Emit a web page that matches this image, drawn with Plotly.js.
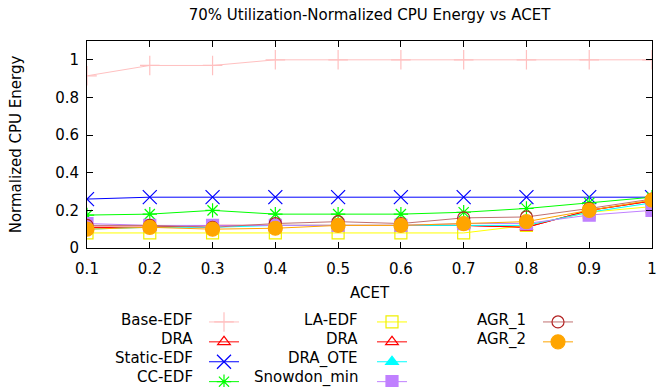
<!DOCTYPE html>
<html>
<head>
<meta charset="utf-8">
<script src="https://cdn.plot.ly/plotly-3.0.1.min.js"></script>
<style>html,body{margin:0;padding:0;background:#fff}#chart{width:665px;height:387px}</style>
</head>
<body>
<div id="chart"></div>
<script>
var acet = [0.1, 0.2, 0.3, 0.4, 0.5, 0.6, 0.7, 0.8, 0.9, 1.0];
var acetLabels = ['0.1','0.2','0.3','0.4','0.5','0.6','0.7','0.8','0.9','1'];
var yTickVals = [0, 0.2, 0.4, 0.6, 0.8, 1];
var yTickLabels = ['0','0.2','0.4','0.6','0.8','1'];
var baseEDF     = [0.915, 0.97, 0.97, 1.0, 1.0, 1.0, 1.0, 1.0, 1.0, 1.0];
var dra         = [0.11, 0.11, 0.12, 0.12, 0.12, 0.12, 0.12, 0.11, 0.20, 0.25];
var staticEDF   = [0.26, 0.27, 0.27, 0.27, 0.27, 0.27, 0.27, 0.27, 0.27, 0.27];
var ccEDF       = [0.175, 0.18, 0.20, 0.18, 0.18, 0.18, 0.19, 0.21, 0.24, 0.27];
var laEDF       = [0.08, 0.08, 0.08, 0.08, 0.08, 0.08, 0.08, 0.12, 0.19, 0.22];
var dra2        = [0.11, 0.11, 0.12, 0.12, 0.12, 0.12, 0.12, 0.11, 0.20, 0.25];
var draOTE      = [0.10, 0.11, 0.11, 0.12, 0.12, 0.12, 0.12, 0.12, 0.19, 0.24];
var snowdonMin  = [0.13, 0.12, 0.12, 0.12, 0.12, 0.12, 0.13, 0.13, 0.175, 0.20];
var agr1        = [0.12, 0.12, 0.11, 0.13, 0.14, 0.13, 0.16, 0.165, 0.21, 0.26];
var agr2        = [0.10, 0.11, 0.10, 0.105, 0.12, 0.12, 0.13, 0.14, 0.20, 0.255];

var seriesNames = ['Base-EDF', 'DRA', 'Static-EDF', 'CC-EDF', 'LA-EDF', 'DRA', 'DRA_OTE', 'Snowdon_min', 'AGR_1', 'AGR_2'];
var seriesData = [baseEDF, dra, staticEDF, ccEDF, laEDF, dra2, draOTE, snowdonMin, agr1, agr2];
var lineColors = ['#ffc0c0', '#ff0000', '#0000ff', '#00ff00', '#ffff00', '#ff0000', '#00ffff', '#c080ff', '#c07070', '#ffa500'];
var markerColors = ['#ffc0c0', '#ff0000', '#0000ff', '#00ff00', '#f0f000', '#ff0000', '#00ffff', '#c080ff', '#b22222', '#ffa500'];
var symbols = ['cross-thin-open', 'triangle-up-open', 'x-thin-open', 'asterisk-open', 'square-open', 'triangle-up-open', 'triangle-up', 'square', 'circle-open', 'circle'];
var sizes = [14, 11, 14, 12, 12, 11, 11, 12, 12, 14];
var legendCol = ['legend', 'legend', 'legend', 'legend', 'legend2', 'legend2', 'legend2', 'legend2', 'legend3', 'legend3'];
var rowOf = [0, 1, 2, 3, 0, 1, 2, 3, 0, 1];

var FONT = 'DejaVu Sans, sans-serif';
var FS = 15;
var L = 87, R = 652, T = 41, B = 248;
function px2x(p) { return (p - L) / (R - L); }
function py2y(p) { return (B - p) / (B - T); }

var traces = [];
for (var i = 0; i < seriesNames.length; i++) {
  traces.push({
    x: acet, y: seriesData[i], type: 'scatter', mode: 'lines+markers',
    name: ' ', legend: legendCol[i], cliponaxis: true,
    line: {color: lineColors[i], width: 1},
    marker: {symbol: symbols[i], size: sizes[i], color: markerColors[i], line: {color: markerColors[i], width: 1.2}}
  });
}

var symCenters = [224, 392, 558];
var textRight = [195, 360, 528];
var row0 = 320, rowStep = 19;
var legTop = 307;
function legendOpts(c) {
  return {orientation: 'v', x: px2x(symCenters[c] - 20), xanchor: 'left', y: py2y(legTop), yanchor: 'top',
    font: {family: FONT, size: 13}, bgcolor: 'rgba(0,0,0,0)', borderwidth: 0, traceorder: 'normal', tracegroupgap: 0};
}
var annotations = [];
for (var j = 0; j < seriesNames.length; j++) {
  var c = legendCol[j] === 'legend' ? 0 : (legendCol[j] === 'legend2' ? 1 : 2);
  annotations.push({text: seriesNames[j], xref: 'paper', yref: 'paper', x: px2x(textRight[c]), y: py2y(row0 + rowStep * rowOf[j]),
    xanchor: 'right', yanchor: 'middle', showarrow: false, font: {family: FONT, size: FS, color: '#000'}});
}

var layout = {
  width: 665, height: 387,
  margin: {l: L, r: 665 - R, t: T, b: 387 - B, autoexpand: false},
  paper_bgcolor: '#fff', plot_bgcolor: '#fff',
  font: {family: FONT, size: FS, color: '#000'},
  title: {text: '70% Utilization-Normalized CPU Energy vs ACET', x: 0.5, xref: 'paper', y: 1 - 15 / 387, yanchor: 'middle',
    font: {family: FONT, size: FS, color: '#000'}},
  xaxis: {range: [0.1, 1.0], tickvals: acet, ticktext: acetLabels, ticklabelstandoff: 7,
    tickfont: {family: FONT, size: FS, color: '#000'},
    ticks: 'inside', ticklen: 6, tickcolor: '#000', showline: true, linecolor: '#000', linewidth: 1, mirror: 'ticks',
    showgrid: false, zeroline: false, automargin: false,
    title: {text: 'ACET', standoff: 10, font: {family: FONT, size: FS, color: '#000'}}},
  yaxis: {range: [0, 1.1], tickvals: yTickVals, ticktext: yTickLabels, ticklabelstandoff: 4,
    tickfont: {family: FONT, size: FS, color: '#000'},
    ticks: 'inside', ticklen: 6, tickcolor: '#000', showline: true, linecolor: '#000', linewidth: 1, mirror: 'ticks',
    showgrid: false, zeroline: false, automargin: false,
    title: {text: 'Normalized CPU Energy', standoff: 29, font: {family: FONT, size: FS, color: '#000'}}},
  showlegend: true,
  legend: legendOpts(0), legend2: legendOpts(1), legend3: legendOpts(2),
  annotations: annotations
};
Plotly.newPlot('chart', traces, layout, {displayModeBar: false, staticPlot: true});
</script>
</body>
</html>
